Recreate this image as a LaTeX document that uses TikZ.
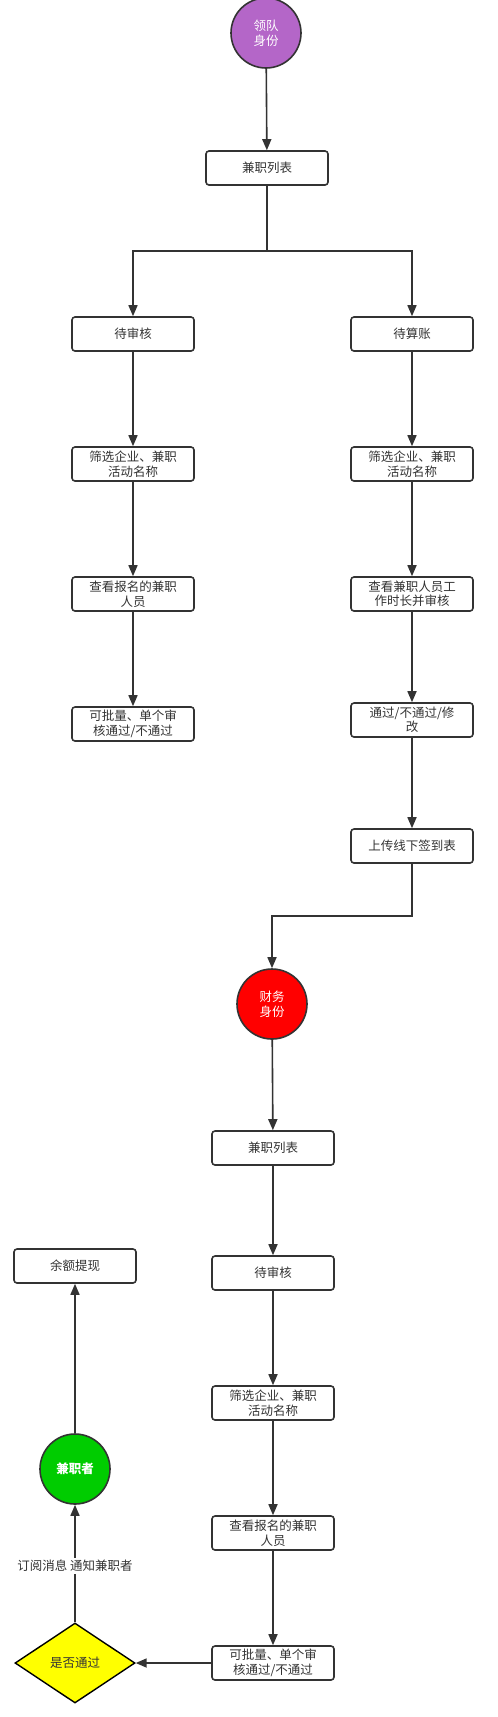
\documentclass[tikz,border=0pt]{standalone}
\usepackage{fontspec}
\setmainfont{Noto Sans CJK SC}
\usetikzlibrary{shapes.geometric, arrows.meta}
\definecolor{ink}{HTML}{333333}
\definecolor{lead}{HTML}{B466C8}
\definecolor{finance}{HTML}{FF0000}
\definecolor{worker}{HTML}{00CC00}
\definecolor{decide}{HTML}{FFFF00}
\tikzset{
  stepbox/.style={rectangle, rounded corners=3pt, draw=ink, line width=1.6pt,
    minimum width=122pt, minimum height=34pt, inner sep=1pt,
    font=\fontsize{12.5}{14.5}\selectfont, text=ink, align=center, fill=white},
  role/.style={circle, draw=ink, line width=1.6pt, minimum size=70pt,
    inner sep=0pt, font=\fontsize{12.5}{15}\selectfont, text=white, align=center},
  choice/.style={diamond, draw=black, line width=1.4pt, aspect=1.5,
    minimum width=120pt, minimum height=80pt, inner sep=0pt,
    font=\fontsize{12.5}{15}\selectfont, text=ink, fill=decide},
  flow/.style={draw=ink, line width=1.6pt, -{Triangle[width=9pt, length=11pt]}},
  note/.style={font=\fontsize{12.5}{15}\selectfont, text=ink, fill=white, inner sep=2pt}
}
\begin{document}
\begin{tikzpicture}[x=1pt, y=-1pt]
\useasboundingbox (0,0) rectangle (498,1717);

%% ── Leader branch ──────────────────────────────────────
\node[role, fill=lead] (leader) at (266, 33) {领队\\身份};
\node[stepbox] (list1)   at (267, 168) {兼职列表};
\coordinate (split) at (267, 251);

\node[stepbox] (pend1)   at (133, 334) {待审核};
\node[stepbox] (filt1)   at (133, 464) {筛选企业、兼职\\活动名称};
\node[stepbox] (view1)   at (133, 594) {查看报名的兼职\\人员};
\node[stepbox] (batch1)  at (133, 724) {可批量、单个审\\核通过/不通过};

\node[stepbox] (acct)    at (412, 334) {待算账};
\node[stepbox] (filt2)   at (412, 464) {筛选企业、兼职\\活动名称};
\node[stepbox] (hours)   at (412, 594) {查看兼职人员工\\作时长并审核};
\node[stepbox] (pass)    at (412, 720) {通过/不通过/修\\改};
\node[stepbox] (upload)  at (412, 846) {上传线下签到表};
\coordinate (turn) at (412, 916);

%% ── Finance branch ─────────────────────────────────────
\node[role, fill=finance] (fin) at (272, 1004) {财务\\身份};
\node[stepbox] (list2)   at (273, 1148) {兼职列表};
\node[stepbox] (pend2)   at (273, 1273) {待审核};
\node[stepbox] (filt3)   at (273, 1403) {筛选企业、兼职\\活动名称};
\node[stepbox] (view2)   at (273, 1533) {查看报名的兼职\\人员};
\node[stepbox] (batch2)  at (273, 1663) {可批量、单个审\\核通过/不通过};

%% ── Worker side ────────────────────────────────────────
\node[choice] (ok)       at (75, 1663) {是否通过};
\node[role, fill=worker, font=\fontsize{12.5}{15}\selectfont\bfseries] (worker) at (75, 1469) {兼职者};
\node[stepbox] (cash)    at (75, 1266) {余额提现};

%% ── Connections ────────────────────────────────────────
\draw[flow] (leader) -- (list1);
\draw[draw=ink, line width=1.6pt] (list1.south) -- (split);
\draw[flow] (split) -| (pend1.north);
\draw[flow] (split) -| (acct.north);

\draw[flow] (pend1) -- (filt1);
\draw[flow] (filt1) -- (view1);
\draw[flow] (view1) -- (batch1);

\draw[flow] (acct)  -- (filt2);
\draw[flow] (filt2) -- (hours);
\draw[flow] (hours) -- (pass);
\draw[flow] (pass)  -- (upload);
\draw[flow] (upload.south) -- (turn) -| (fin.north);

\draw[flow] (fin)   -- (list2);
\draw[flow] (list2) -- (pend2);
\draw[flow] (pend2) -- (filt3);
\draw[flow] (filt3) -- (view2);
\draw[flow] (view2) -- (batch2);

% review result goes to the worker
\draw[flow] (batch2) -- (ok);
\draw[flow] (ok) -- node[note, pos=0.48] {订阅消息 通知兼职者} (worker);
\draw[flow] (worker) -- (cash);

\end{tikzpicture}
\end{document}
